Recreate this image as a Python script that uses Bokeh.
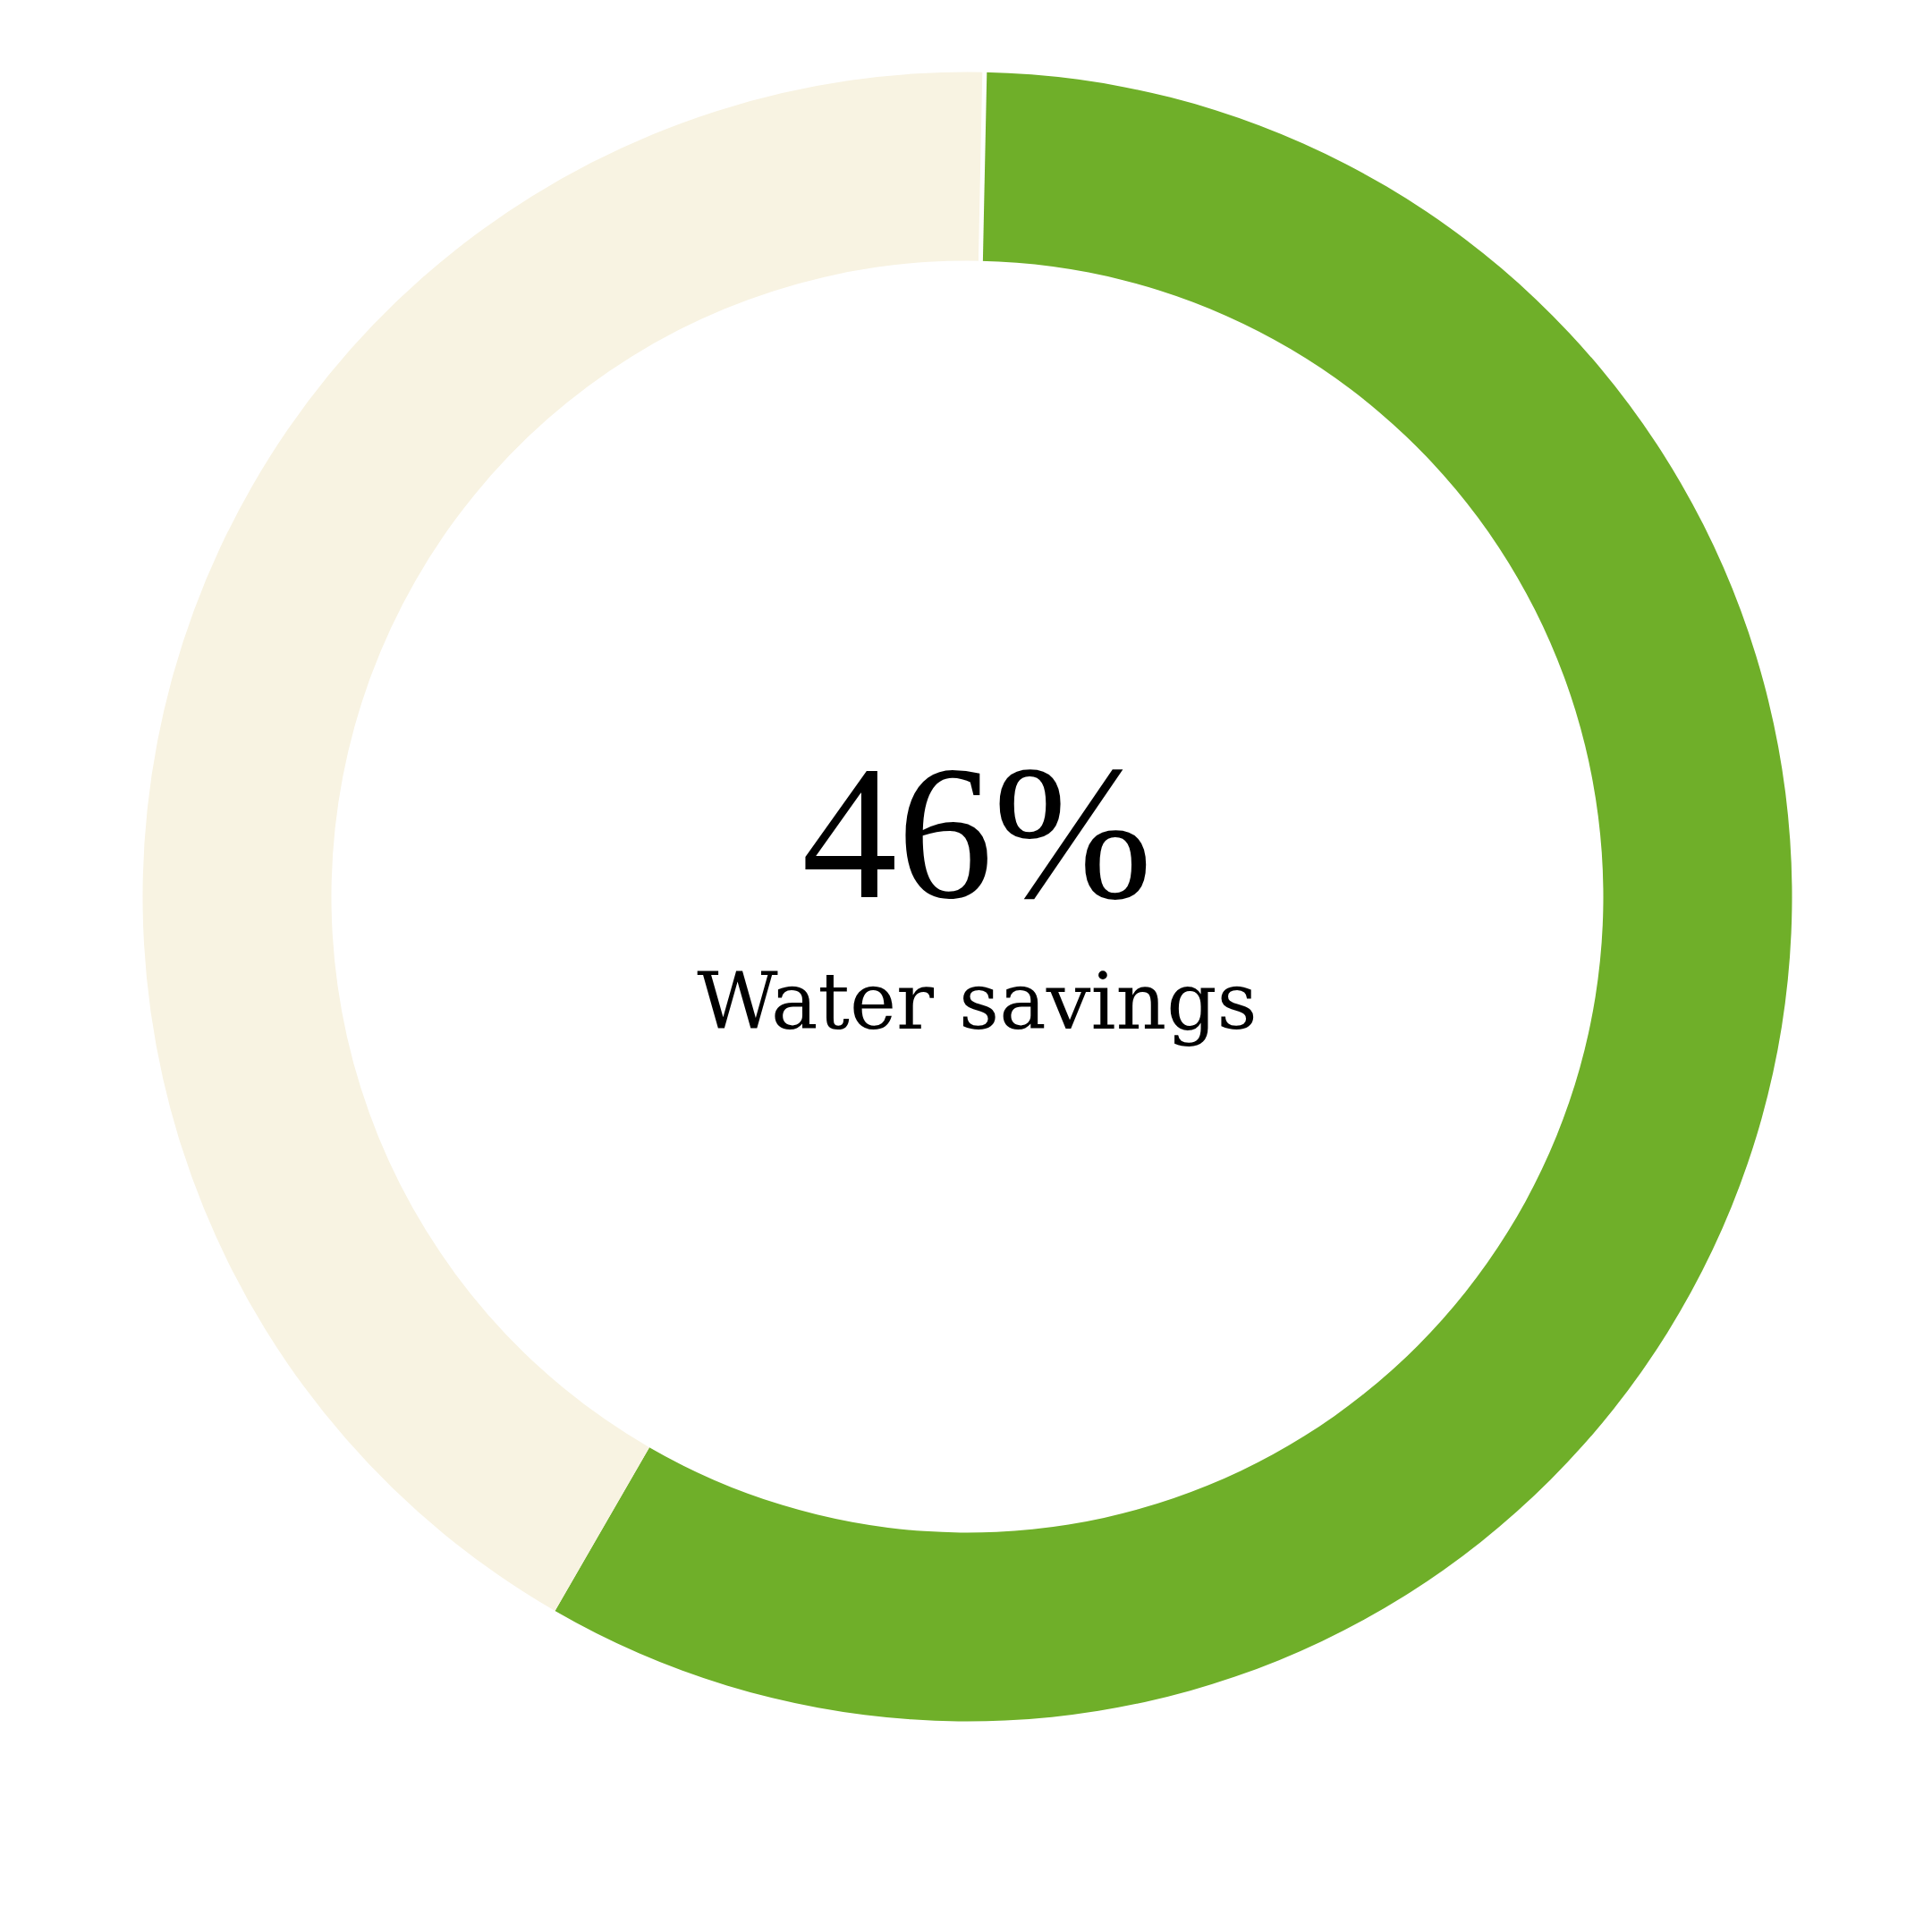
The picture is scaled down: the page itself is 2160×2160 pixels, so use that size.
import math
from bokeh.plotting import figure
from bokeh.models import Range1d, ColumnDataSource
from bokeh.core.properties import value
from bokeh.embed import file_html
from bokeh.resources import INLINE

# ---- data ----
segments = ["Water savings", "Remaining"]
shares = [58, 42]                 # arc shares (percent of ring)
colors = ["#6FAF29", "#F8F3E2"]
center_value = "46%"
center_label = "Water savings"
start_offset_deg = 1.2            # ring starts slightly clockwise of 12 o'clock

# ---- layout (page pixels) ----
W = H = 2144
cx_page, cy_page = 1081, 1002
r_in, r_out = 711, 922

def to_data_y(py):
    return 2160 - py

cx, cy = cx_page, to_data_y(cy_page)

p = figure(width=W, height=H, output_backend="svg", toolbar_location=None,
           x_range=Range1d(0, W), y_range=Range1d(2160 - H, 2160),
           min_border=0, outline_line_color=None)
p.axis.visible = False
p.grid.visible = False
p.background_fill_color = "white"
p.border_fill_color = "white"

# clockwise angles from top -> math angles
total = sum(shares)
starts, ends = [], []
acc = start_offset_deg
for s in shares:
    a0 = acc
    a1 = acc + 360.0 * s / total
    starts.append(math.radians(90 - a1))
    ends.append(math.radians(90 - a0))
    acc = a1

src = ColumnDataSource(dict(x=[cx] * len(shares), y=[cy] * len(shares),
                            start=starts, end=ends, color=colors, name=segments))
p.annular_wedge(x="x", y="y", inner_radius=r_in, outer_radius=r_out,
                inner_radius_units="screen", outer_radius_units="screen",
                start_angle="start", end_angle="end", fill_color="color",
                line_color=None, source=src)

# thin white separator at the ring start
ang = math.radians(90 - start_offset_deg)
p.segment(x0=[cx + (r_in - 4) * math.cos(ang)], y0=[cy + (r_in - 4) * math.sin(ang)],
          x1=[cx + (r_out + 4) * math.cos(ang)], y1=[cy + (r_out + 4) * math.sin(ang)],
          line_color="white", line_width=5)

tx = 1092
p.text(x=[tx], y=[to_data_y(930)], text=[center_value], text_align="center",
       text_baseline="alphabetic", text_font=value("Liberation Serif"),
       text_font_size="214px", text_color="black")
p.text(x=[tx], y=[to_data_y(1119)], text=[center_label], text_align="center",
       text_baseline="alphabetic", text_font=value("DejaVu Serif"),
       text_font_size="88px", text_color="black")

open("out.html", "w").write(file_html(p, INLINE))
